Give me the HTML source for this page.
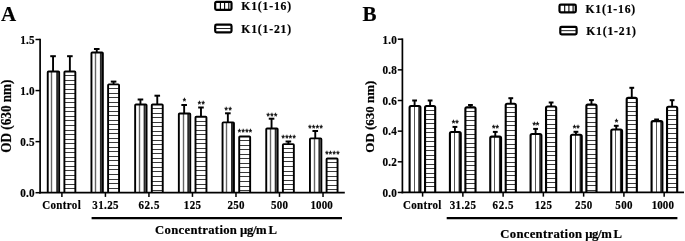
<!DOCTYPE html>
<html><head><meta charset="utf-8"><title>Figure</title>
<style>
html,body{margin:0;padding:0;background:#fff;}
svg{display:block;}
</style></head>
<body>
<svg width="685" height="241" viewBox="0 0 685 241">
<rect width="685" height="241" fill="#fff"/>
<line x1="53.05" y1="56.20" x2="53.05" y2="71.50" stroke="#000" stroke-width="1.9"/>
<line x1="50.25" y1="56.20" x2="55.85" y2="56.20" stroke="#000" stroke-width="2.0"/>
<rect x="47.75" y="71.45" width="11.40" height="121.25" fill="#fff"/>
<line x1="51.50" y1="71.45" x2="51.50" y2="192.70" stroke="#666" stroke-width="1.4"/><line x1="57.20" y1="71.45" x2="57.20" y2="192.70" stroke="#2a2a2a" stroke-width="2.0"/>
<path d="M47.75 192.70V72.25Q47.75 71.45 48.55 71.45H58.35Q59.15 71.45 59.15 72.25V192.70" fill="none" stroke="#000" stroke-width="1.9"/>
<line x1="69.88" y1="56.20" x2="69.88" y2="71.60" stroke="#000" stroke-width="1.9"/>
<line x1="67.08" y1="56.20" x2="72.67" y2="56.20" stroke="#000" stroke-width="2.0"/>
<rect x="64.40" y="71.55" width="10.95" height="121.15" fill="#fff"/>
<line x1="64.40" y1="75.5" x2="75.35" y2="75.5" stroke="#3a3a3a" stroke-width="1.0"/><line x1="64.40" y1="80.5" x2="75.35" y2="80.5" stroke="#3a3a3a" stroke-width="1.0"/><line x1="64.40" y1="84.5" x2="75.35" y2="84.5" stroke="#3a3a3a" stroke-width="1.0"/><line x1="64.40" y1="89.5" x2="75.35" y2="89.5" stroke="#3a3a3a" stroke-width="1.0"/><line x1="64.40" y1="93.5" x2="75.35" y2="93.5" stroke="#3a3a3a" stroke-width="1.0"/><line x1="64.40" y1="98.5" x2="75.35" y2="98.5" stroke="#3a3a3a" stroke-width="1.0"/><line x1="64.40" y1="102.5" x2="75.35" y2="102.5" stroke="#3a3a3a" stroke-width="1.0"/><line x1="64.40" y1="107.5" x2="75.35" y2="107.5" stroke="#3a3a3a" stroke-width="1.0"/><line x1="64.40" y1="111.5" x2="75.35" y2="111.5" stroke="#3a3a3a" stroke-width="1.0"/><line x1="64.40" y1="116.5" x2="75.35" y2="116.5" stroke="#3a3a3a" stroke-width="1.0"/><line x1="64.40" y1="120.5" x2="75.35" y2="120.5" stroke="#3a3a3a" stroke-width="1.0"/><line x1="64.40" y1="125.5" x2="75.35" y2="125.5" stroke="#3a3a3a" stroke-width="1.0"/><line x1="64.40" y1="130.5" x2="75.35" y2="130.5" stroke="#3a3a3a" stroke-width="1.0"/><line x1="64.40" y1="134.5" x2="75.35" y2="134.5" stroke="#3a3a3a" stroke-width="1.0"/><line x1="64.40" y1="139.5" x2="75.35" y2="139.5" stroke="#3a3a3a" stroke-width="1.0"/><line x1="64.40" y1="143.5" x2="75.35" y2="143.5" stroke="#3a3a3a" stroke-width="1.0"/><line x1="64.40" y1="148.5" x2="75.35" y2="148.5" stroke="#3a3a3a" stroke-width="1.0"/><line x1="64.40" y1="152.5" x2="75.35" y2="152.5" stroke="#3a3a3a" stroke-width="1.0"/><line x1="64.40" y1="157.5" x2="75.35" y2="157.5" stroke="#3a3a3a" stroke-width="1.0"/><line x1="64.40" y1="161.5" x2="75.35" y2="161.5" stroke="#3a3a3a" stroke-width="1.0"/><line x1="64.40" y1="166.5" x2="75.35" y2="166.5" stroke="#3a3a3a" stroke-width="1.0"/><line x1="64.40" y1="170.5" x2="75.35" y2="170.5" stroke="#3a3a3a" stroke-width="1.0"/><line x1="64.40" y1="175.5" x2="75.35" y2="175.5" stroke="#3a3a3a" stroke-width="1.0"/><line x1="64.40" y1="179.5" x2="75.35" y2="179.5" stroke="#3a3a3a" stroke-width="1.0"/><line x1="64.40" y1="184.5" x2="75.35" y2="184.5" stroke="#3a3a3a" stroke-width="1.0"/><line x1="64.40" y1="188.5" x2="75.35" y2="188.5" stroke="#3a3a3a" stroke-width="1.0"/>
<path d="M64.40 192.70V72.35Q64.40 71.55 65.20 71.55H74.55Q75.35 71.55 75.35 72.35V192.70" fill="none" stroke="#000" stroke-width="1.9"/>
<line x1="96.75" y1="49.00" x2="96.75" y2="52.50" stroke="#000" stroke-width="1.9"/>
<line x1="93.95" y1="49.00" x2="99.55" y2="49.00" stroke="#000" stroke-width="2.0"/>
<rect x="91.45" y="52.45" width="11.40" height="140.25" fill="#fff"/>
<line x1="95.50" y1="52.45" x2="95.50" y2="192.70" stroke="#666" stroke-width="1.4"/><line x1="100.90" y1="52.45" x2="100.90" y2="192.70" stroke="#2a2a2a" stroke-width="2.0"/>
<path d="M91.45 192.70V53.25Q91.45 52.45 92.25 52.45H102.05Q102.85 52.45 102.85 53.25V192.70" fill="none" stroke="#000" stroke-width="1.9"/>
<line x1="113.58" y1="81.60" x2="113.58" y2="84.40" stroke="#000" stroke-width="1.9"/>
<line x1="110.78" y1="81.60" x2="116.38" y2="81.60" stroke="#000" stroke-width="2.0"/>
<rect x="108.10" y="84.35" width="10.95" height="108.35" fill="#fff"/>
<line x1="108.10" y1="88.5" x2="119.05" y2="88.5" stroke="#3a3a3a" stroke-width="1.0"/><line x1="108.10" y1="93.5" x2="119.05" y2="93.5" stroke="#3a3a3a" stroke-width="1.0"/><line x1="108.10" y1="97.5" x2="119.05" y2="97.5" stroke="#3a3a3a" stroke-width="1.0"/><line x1="108.10" y1="102.5" x2="119.05" y2="102.5" stroke="#3a3a3a" stroke-width="1.0"/><line x1="108.10" y1="106.5" x2="119.05" y2="106.5" stroke="#3a3a3a" stroke-width="1.0"/><line x1="108.10" y1="111.5" x2="119.05" y2="111.5" stroke="#3a3a3a" stroke-width="1.0"/><line x1="108.10" y1="115.5" x2="119.05" y2="115.5" stroke="#3a3a3a" stroke-width="1.0"/><line x1="108.10" y1="120.5" x2="119.05" y2="120.5" stroke="#3a3a3a" stroke-width="1.0"/><line x1="108.10" y1="124.5" x2="119.05" y2="124.5" stroke="#3a3a3a" stroke-width="1.0"/><line x1="108.10" y1="129.5" x2="119.05" y2="129.5" stroke="#3a3a3a" stroke-width="1.0"/><line x1="108.10" y1="133.5" x2="119.05" y2="133.5" stroke="#3a3a3a" stroke-width="1.0"/><line x1="108.10" y1="138.5" x2="119.05" y2="138.5" stroke="#3a3a3a" stroke-width="1.0"/><line x1="108.10" y1="142.5" x2="119.05" y2="142.5" stroke="#3a3a3a" stroke-width="1.0"/><line x1="108.10" y1="147.5" x2="119.05" y2="147.5" stroke="#3a3a3a" stroke-width="1.0"/><line x1="108.10" y1="151.5" x2="119.05" y2="151.5" stroke="#3a3a3a" stroke-width="1.0"/><line x1="108.10" y1="156.5" x2="119.05" y2="156.5" stroke="#3a3a3a" stroke-width="1.0"/><line x1="108.10" y1="160.5" x2="119.05" y2="160.5" stroke="#3a3a3a" stroke-width="1.0"/><line x1="108.10" y1="165.5" x2="119.05" y2="165.5" stroke="#3a3a3a" stroke-width="1.0"/><line x1="108.10" y1="169.5" x2="119.05" y2="169.5" stroke="#3a3a3a" stroke-width="1.0"/><line x1="108.10" y1="174.5" x2="119.05" y2="174.5" stroke="#3a3a3a" stroke-width="1.0"/><line x1="108.10" y1="179.5" x2="119.05" y2="179.5" stroke="#3a3a3a" stroke-width="1.0"/><line x1="108.10" y1="183.5" x2="119.05" y2="183.5" stroke="#3a3a3a" stroke-width="1.0"/><line x1="108.10" y1="188.5" x2="119.05" y2="188.5" stroke="#3a3a3a" stroke-width="1.0"/>
<path d="M108.10 192.70V85.15Q108.10 84.35 108.90 84.35H118.25Q119.05 84.35 119.05 85.15V192.70" fill="none" stroke="#000" stroke-width="1.9"/>
<line x1="140.45" y1="99.50" x2="140.45" y2="104.50" stroke="#000" stroke-width="1.9"/>
<line x1="137.65" y1="99.50" x2="143.25" y2="99.50" stroke="#000" stroke-width="2.0"/>
<rect x="135.15" y="104.45" width="11.40" height="88.25" fill="#fff"/>
<line x1="139.50" y1="104.45" x2="139.50" y2="192.70" stroke="#666" stroke-width="1.4"/><line x1="144.60" y1="104.45" x2="144.60" y2="192.70" stroke="#2a2a2a" stroke-width="2.0"/>
<path d="M135.15 192.70V105.25Q135.15 104.45 135.95 104.45H145.75Q146.55 104.45 146.55 105.25V192.70" fill="none" stroke="#000" stroke-width="1.9"/>
<line x1="157.27" y1="95.70" x2="157.27" y2="104.50" stroke="#000" stroke-width="1.9"/>
<line x1="154.47" y1="95.70" x2="160.07" y2="95.70" stroke="#000" stroke-width="2.0"/>
<rect x="151.80" y="104.45" width="10.95" height="88.25" fill="#fff"/>
<line x1="151.80" y1="108.5" x2="162.75" y2="108.5" stroke="#3a3a3a" stroke-width="1.0"/><line x1="151.80" y1="113.5" x2="162.75" y2="113.5" stroke="#3a3a3a" stroke-width="1.0"/><line x1="151.80" y1="117.5" x2="162.75" y2="117.5" stroke="#3a3a3a" stroke-width="1.0"/><line x1="151.80" y1="122.5" x2="162.75" y2="122.5" stroke="#3a3a3a" stroke-width="1.0"/><line x1="151.80" y1="126.5" x2="162.75" y2="126.5" stroke="#3a3a3a" stroke-width="1.0"/><line x1="151.80" y1="131.5" x2="162.75" y2="131.5" stroke="#3a3a3a" stroke-width="1.0"/><line x1="151.80" y1="135.5" x2="162.75" y2="135.5" stroke="#3a3a3a" stroke-width="1.0"/><line x1="151.80" y1="140.5" x2="162.75" y2="140.5" stroke="#3a3a3a" stroke-width="1.0"/><line x1="151.80" y1="144.5" x2="162.75" y2="144.5" stroke="#3a3a3a" stroke-width="1.0"/><line x1="151.80" y1="149.5" x2="162.75" y2="149.5" stroke="#3a3a3a" stroke-width="1.0"/><line x1="151.80" y1="153.5" x2="162.75" y2="153.5" stroke="#3a3a3a" stroke-width="1.0"/><line x1="151.80" y1="158.5" x2="162.75" y2="158.5" stroke="#3a3a3a" stroke-width="1.0"/><line x1="151.80" y1="162.5" x2="162.75" y2="162.5" stroke="#3a3a3a" stroke-width="1.0"/><line x1="151.80" y1="167.5" x2="162.75" y2="167.5" stroke="#3a3a3a" stroke-width="1.0"/><line x1="151.80" y1="171.5" x2="162.75" y2="171.5" stroke="#3a3a3a" stroke-width="1.0"/><line x1="151.80" y1="176.5" x2="162.75" y2="176.5" stroke="#3a3a3a" stroke-width="1.0"/><line x1="151.80" y1="181.5" x2="162.75" y2="181.5" stroke="#3a3a3a" stroke-width="1.0"/><line x1="151.80" y1="185.5" x2="162.75" y2="185.5" stroke="#3a3a3a" stroke-width="1.0"/><line x1="151.80" y1="190.5" x2="162.75" y2="190.5" stroke="#3a3a3a" stroke-width="1.0"/>
<path d="M151.80 192.70V105.25Q151.80 104.45 152.60 104.45H161.95Q162.75 104.45 162.75 105.25V192.70" fill="none" stroke="#000" stroke-width="1.9"/>
<line x1="184.15" y1="105.00" x2="184.15" y2="113.50" stroke="#000" stroke-width="1.9"/>
<line x1="181.35" y1="105.00" x2="186.95" y2="105.00" stroke="#000" stroke-width="2.0"/>
<rect x="178.85" y="113.45" width="11.40" height="79.25" fill="#fff"/>
<line x1="183.50" y1="113.45" x2="183.50" y2="192.70" stroke="#666" stroke-width="1.4"/><line x1="188.30" y1="113.45" x2="188.30" y2="192.70" stroke="#2a2a2a" stroke-width="2.0"/>
<path d="M178.85 192.70V114.25Q178.85 113.45 179.65 113.45H189.45Q190.25 113.45 190.25 114.25V192.70" fill="none" stroke="#000" stroke-width="1.9"/>
<text x="182.65" y="104.10" font-family="&quot;Liberation Sans&quot;, sans-serif" font-size="8.6" fill="#000" stroke="#000" stroke-width="0.3">*</text>
<line x1="200.98" y1="107.50" x2="200.98" y2="116.80" stroke="#000" stroke-width="1.9"/>
<line x1="198.18" y1="107.50" x2="203.78" y2="107.50" stroke="#000" stroke-width="2.0"/>
<rect x="195.50" y="116.75" width="10.95" height="75.95" fill="#fff"/>
<line x1="195.50" y1="121.5" x2="206.45" y2="121.5" stroke="#3a3a3a" stroke-width="1.0"/><line x1="195.50" y1="125.5" x2="206.45" y2="125.5" stroke="#3a3a3a" stroke-width="1.0"/><line x1="195.50" y1="130.5" x2="206.45" y2="130.5" stroke="#3a3a3a" stroke-width="1.0"/><line x1="195.50" y1="134.5" x2="206.45" y2="134.5" stroke="#3a3a3a" stroke-width="1.0"/><line x1="195.50" y1="139.5" x2="206.45" y2="139.5" stroke="#3a3a3a" stroke-width="1.0"/><line x1="195.50" y1="143.5" x2="206.45" y2="143.5" stroke="#3a3a3a" stroke-width="1.0"/><line x1="195.50" y1="148.5" x2="206.45" y2="148.5" stroke="#3a3a3a" stroke-width="1.0"/><line x1="195.50" y1="152.5" x2="206.45" y2="152.5" stroke="#3a3a3a" stroke-width="1.0"/><line x1="195.50" y1="157.5" x2="206.45" y2="157.5" stroke="#3a3a3a" stroke-width="1.0"/><line x1="195.50" y1="161.5" x2="206.45" y2="161.5" stroke="#3a3a3a" stroke-width="1.0"/><line x1="195.50" y1="166.5" x2="206.45" y2="166.5" stroke="#3a3a3a" stroke-width="1.0"/><line x1="195.50" y1="170.5" x2="206.45" y2="170.5" stroke="#3a3a3a" stroke-width="1.0"/><line x1="195.50" y1="175.5" x2="206.45" y2="175.5" stroke="#3a3a3a" stroke-width="1.0"/><line x1="195.50" y1="179.5" x2="206.45" y2="179.5" stroke="#3a3a3a" stroke-width="1.0"/><line x1="195.50" y1="184.5" x2="206.45" y2="184.5" stroke="#3a3a3a" stroke-width="1.0"/><line x1="195.50" y1="188.5" x2="206.45" y2="188.5" stroke="#3a3a3a" stroke-width="1.0"/>
<path d="M195.50 192.70V117.55Q195.50 116.75 196.30 116.75H205.65Q206.45 116.75 206.45 117.55V192.70" fill="none" stroke="#000" stroke-width="1.9"/>
<text x="197.68" y="106.80" font-family="&quot;Liberation Sans&quot;, sans-serif" font-size="8.6" fill="#000" stroke="#000" stroke-width="0.3" textLength="7.20" lengthAdjust="spacing">**</text>
<line x1="227.85" y1="113.30" x2="227.85" y2="122.40" stroke="#000" stroke-width="1.9"/>
<line x1="225.05" y1="113.30" x2="230.65" y2="113.30" stroke="#000" stroke-width="2.0"/>
<rect x="222.55" y="122.35" width="11.40" height="70.35" fill="#fff"/>
<line x1="226.50" y1="122.35" x2="226.50" y2="192.70" stroke="#666" stroke-width="1.4"/><line x1="232.00" y1="122.35" x2="232.00" y2="192.70" stroke="#2a2a2a" stroke-width="2.0"/>
<path d="M222.55 192.70V123.15Q222.55 122.35 223.35 122.35H233.15Q233.95 122.35 233.95 123.15V192.70" fill="none" stroke="#000" stroke-width="1.9"/>
<text x="224.55" y="112.60" font-family="&quot;Liberation Sans&quot;, sans-serif" font-size="8.6" fill="#000" stroke="#000" stroke-width="0.3" textLength="7.20" lengthAdjust="spacing">**</text>
<rect x="239.20" y="136.55" width="10.95" height="56.15" fill="#fff"/>
<line x1="239.20" y1="140.5" x2="250.15" y2="140.5" stroke="#3a3a3a" stroke-width="1.0"/><line x1="239.20" y1="145.5" x2="250.15" y2="145.5" stroke="#3a3a3a" stroke-width="1.0"/><line x1="239.20" y1="149.5" x2="250.15" y2="149.5" stroke="#3a3a3a" stroke-width="1.0"/><line x1="239.20" y1="154.5" x2="250.15" y2="154.5" stroke="#3a3a3a" stroke-width="1.0"/><line x1="239.20" y1="158.5" x2="250.15" y2="158.5" stroke="#3a3a3a" stroke-width="1.0"/><line x1="239.20" y1="163.5" x2="250.15" y2="163.5" stroke="#3a3a3a" stroke-width="1.0"/><line x1="239.20" y1="167.5" x2="250.15" y2="167.5" stroke="#3a3a3a" stroke-width="1.0"/><line x1="239.20" y1="172.5" x2="250.15" y2="172.5" stroke="#3a3a3a" stroke-width="1.0"/><line x1="239.20" y1="176.5" x2="250.15" y2="176.5" stroke="#3a3a3a" stroke-width="1.0"/><line x1="239.20" y1="181.5" x2="250.15" y2="181.5" stroke="#3a3a3a" stroke-width="1.0"/><line x1="239.20" y1="186.5" x2="250.15" y2="186.5" stroke="#3a3a3a" stroke-width="1.0"/><line x1="239.20" y1="190.5" x2="250.15" y2="190.5" stroke="#3a3a3a" stroke-width="1.0"/>
<path d="M239.20 192.70V137.35Q239.20 136.55 240.00 136.55H249.35Q250.15 136.55 250.15 137.35V192.70" fill="none" stroke="#000" stroke-width="1.9"/>
<text x="237.78" y="135.20" font-family="&quot;Liberation Sans&quot;, sans-serif" font-size="8.6" fill="#000" stroke="#000" stroke-width="0.3" textLength="14.40" lengthAdjust="spacing">****</text>
<line x1="271.55" y1="118.70" x2="271.55" y2="128.60" stroke="#000" stroke-width="1.9"/>
<line x1="268.75" y1="118.70" x2="274.35" y2="118.70" stroke="#000" stroke-width="2.0"/>
<rect x="266.25" y="128.55" width="11.40" height="64.15" fill="#fff"/>
<line x1="270.50" y1="128.55" x2="270.50" y2="192.70" stroke="#666" stroke-width="1.4"/><line x1="275.70" y1="128.55" x2="275.70" y2="192.70" stroke="#2a2a2a" stroke-width="2.0"/>
<path d="M266.25 192.70V129.35Q266.25 128.55 267.05 128.55H276.85Q277.65 128.55 277.65 129.35V192.70" fill="none" stroke="#000" stroke-width="1.9"/>
<text x="266.45" y="118.90" font-family="&quot;Liberation Sans&quot;, sans-serif" font-size="8.6" fill="#000" stroke="#000" stroke-width="0.3" textLength="10.80" lengthAdjust="spacing">***</text>
<line x1="288.38" y1="141.50" x2="288.38" y2="144.20" stroke="#000" stroke-width="1.9"/>
<line x1="285.57" y1="141.50" x2="291.18" y2="141.50" stroke="#000" stroke-width="2.0"/>
<rect x="282.90" y="144.15" width="10.95" height="48.55" fill="#fff"/>
<line x1="282.90" y1="148.5" x2="293.85" y2="148.5" stroke="#3a3a3a" stroke-width="1.0"/><line x1="282.90" y1="152.5" x2="293.85" y2="152.5" stroke="#3a3a3a" stroke-width="1.0"/><line x1="282.90" y1="157.5" x2="293.85" y2="157.5" stroke="#3a3a3a" stroke-width="1.0"/><line x1="282.90" y1="161.5" x2="293.85" y2="161.5" stroke="#3a3a3a" stroke-width="1.0"/><line x1="282.90" y1="166.5" x2="293.85" y2="166.5" stroke="#3a3a3a" stroke-width="1.0"/><line x1="282.90" y1="171.5" x2="293.85" y2="171.5" stroke="#3a3a3a" stroke-width="1.0"/><line x1="282.90" y1="175.5" x2="293.85" y2="175.5" stroke="#3a3a3a" stroke-width="1.0"/><line x1="282.90" y1="180.5" x2="293.85" y2="180.5" stroke="#3a3a3a" stroke-width="1.0"/><line x1="282.90" y1="184.5" x2="293.85" y2="184.5" stroke="#3a3a3a" stroke-width="1.0"/><line x1="282.90" y1="189.5" x2="293.85" y2="189.5" stroke="#3a3a3a" stroke-width="1.0"/>
<path d="M282.90 192.70V144.95Q282.90 144.15 283.70 144.15H293.05Q293.85 144.15 293.85 144.95V192.70" fill="none" stroke="#000" stroke-width="1.9"/>
<text x="281.48" y="140.60" font-family="&quot;Liberation Sans&quot;, sans-serif" font-size="8.6" fill="#000" stroke="#000" stroke-width="0.3" textLength="14.40" lengthAdjust="spacing">****</text>
<line x1="315.25" y1="131.00" x2="315.25" y2="138.40" stroke="#000" stroke-width="1.9"/>
<line x1="312.45" y1="131.00" x2="318.05" y2="131.00" stroke="#000" stroke-width="2.0"/>
<rect x="309.95" y="138.35" width="11.40" height="54.35" fill="#fff"/>
<line x1="314.50" y1="138.35" x2="314.50" y2="192.70" stroke="#666" stroke-width="1.4"/><line x1="319.40" y1="138.35" x2="319.40" y2="192.70" stroke="#2a2a2a" stroke-width="2.0"/>
<path d="M309.95 192.70V139.15Q309.95 138.35 310.75 138.35H320.55Q321.35 138.35 321.35 139.15V192.70" fill="none" stroke="#000" stroke-width="1.9"/>
<text x="308.35" y="130.70" font-family="&quot;Liberation Sans&quot;, sans-serif" font-size="8.6" fill="#000" stroke="#000" stroke-width="0.3" textLength="14.40" lengthAdjust="spacing">****</text>
<rect x="326.60" y="158.45" width="10.95" height="34.25" fill="#fff"/>
<line x1="326.60" y1="162.5" x2="337.55" y2="162.5" stroke="#3a3a3a" stroke-width="1.0"/><line x1="326.60" y1="167.5" x2="337.55" y2="167.5" stroke="#3a3a3a" stroke-width="1.0"/><line x1="326.60" y1="171.5" x2="337.55" y2="171.5" stroke="#3a3a3a" stroke-width="1.0"/><line x1="326.60" y1="176.5" x2="337.55" y2="176.5" stroke="#3a3a3a" stroke-width="1.0"/><line x1="326.60" y1="180.5" x2="337.55" y2="180.5" stroke="#3a3a3a" stroke-width="1.0"/><line x1="326.60" y1="185.5" x2="337.55" y2="185.5" stroke="#3a3a3a" stroke-width="1.0"/><line x1="326.60" y1="189.5" x2="337.55" y2="189.5" stroke="#3a3a3a" stroke-width="1.0"/>
<path d="M326.60 192.70V159.25Q326.60 158.45 327.40 158.45H336.75Q337.55 158.45 337.55 159.25V192.70" fill="none" stroke="#000" stroke-width="1.9"/>
<text x="325.18" y="156.90" font-family="&quot;Liberation Sans&quot;, sans-serif" font-size="8.6" fill="#000" stroke="#000" stroke-width="0.3" textLength="14.40" lengthAdjust="spacing">****</text>
<line x1="40.10" y1="38.70" x2="40.10" y2="193.55" stroke="#000" stroke-width="1.7"/>
<line x1="39.25" y1="192.70" x2="344.80" y2="192.70" stroke="#000" stroke-width="1.7"/>
<line x1="35.50" y1="39.50" x2="40.10" y2="39.50" stroke="#000" stroke-width="1.5"/>
<text transform="translate(20.20 43.80) scale(0.86 1)" font-family='"Liberation Serif", serif' font-weight="bold" font-size="13" fill="#000" stroke="#000" stroke-width="0.2" textLength="16.63" lengthAdjust="spacing">1.5</text>
<line x1="35.50" y1="90.57" x2="40.10" y2="90.57" stroke="#000" stroke-width="1.5"/>
<text transform="translate(20.20 94.87) scale(0.86 1)" font-family='"Liberation Serif", serif' font-weight="bold" font-size="13" fill="#000" stroke="#000" stroke-width="0.2" textLength="16.63" lengthAdjust="spacing">1.0</text>
<line x1="35.50" y1="141.63" x2="40.10" y2="141.63" stroke="#000" stroke-width="1.5"/>
<text transform="translate(20.20 145.93) scale(0.86 1)" font-family='"Liberation Serif", serif' font-weight="bold" font-size="13" fill="#000" stroke="#000" stroke-width="0.2" textLength="16.63" lengthAdjust="spacing">0.5</text>
<line x1="35.50" y1="192.70" x2="40.10" y2="192.70" stroke="#000" stroke-width="1.5"/>
<text transform="translate(20.20 197.00) scale(0.86 1)" font-family='"Liberation Serif", serif' font-weight="bold" font-size="13" fill="#000" stroke="#000" stroke-width="0.2" textLength="16.63" lengthAdjust="spacing">0.0</text>
<line x1="61.90" y1="192.70" x2="61.90" y2="196.90" stroke="#000" stroke-width="1.5"/>
<text transform="translate(42.20 209.30) scale(0.86 1)" font-family='"Liberation Serif", serif' font-weight="bold" font-size="12.8" fill="#000" stroke="#000" stroke-width="0.2" textLength="44.77" lengthAdjust="spacing">Control</text>
<line x1="105.42" y1="192.70" x2="105.42" y2="196.90" stroke="#000" stroke-width="1.5"/>
<text transform="translate(92.32 209.30) scale(0.86 1)" font-family='"Liberation Serif", serif' font-weight="bold" font-size="12.8" fill="#000" stroke="#000" stroke-width="0.2" textLength="30.47" lengthAdjust="spacing">31.25</text>
<line x1="148.94" y1="192.70" x2="148.94" y2="196.90" stroke="#000" stroke-width="1.5"/>
<text transform="translate(138.44 209.30) scale(0.86 1)" font-family='"Liberation Serif", serif' font-weight="bold" font-size="12.8" fill="#000" stroke="#000" stroke-width="0.2" textLength="24.42" lengthAdjust="spacing">62.5</text>
<line x1="192.46" y1="192.70" x2="192.46" y2="196.90" stroke="#000" stroke-width="1.5"/>
<text transform="translate(183.86 209.30) scale(0.86 1)" font-family='"Liberation Serif", serif' font-weight="bold" font-size="12.8" fill="#000" stroke="#000" stroke-width="0.2" textLength="20.00" lengthAdjust="spacing">125</text>
<line x1="235.98" y1="192.70" x2="235.98" y2="196.90" stroke="#000" stroke-width="1.5"/>
<text transform="translate(227.38 209.30) scale(0.86 1)" font-family='"Liberation Serif", serif' font-weight="bold" font-size="12.8" fill="#000" stroke="#000" stroke-width="0.2" textLength="20.00" lengthAdjust="spacing">250</text>
<line x1="279.50" y1="192.70" x2="279.50" y2="196.90" stroke="#000" stroke-width="1.5"/>
<text transform="translate(270.90 209.30) scale(0.86 1)" font-family='"Liberation Serif", serif' font-weight="bold" font-size="12.8" fill="#000" stroke="#000" stroke-width="0.2" textLength="20.00" lengthAdjust="spacing">500</text>
<line x1="323.02" y1="192.70" x2="323.02" y2="196.90" stroke="#000" stroke-width="1.5"/>
<text transform="translate(310.52 209.30) scale(0.86 1)" font-family='"Liberation Serif", serif' font-weight="bold" font-size="12.8" fill="#000" stroke="#000" stroke-width="0.2" textLength="25.93" lengthAdjust="spacing">1000</text>
<line x1="91.60" y1="218.2" x2="342.00" y2="218.2" stroke="#000" stroke-width="2.2"/>
<text y="233.60" font-family='"Liberation Serif", serif' font-weight="bold" font-size="12.7" fill="#000" stroke="#000" stroke-width="0.2" xml:space="preserve"><tspan x="155.10" textLength="81.8" lengthAdjust="spacing">Concentration</tspan><tspan> </tspan><tspan x="240.00" textLength="26.6" lengthAdjust="spacing">µg/m</tspan><tspan x="268.40" textLength="8.8" lengthAdjust="spacing">L</tspan></text>
<text transform="translate(11.30 152.70) rotate(-90)" font-family='"Liberation Serif", serif' font-weight="bold" font-size="13.6" textLength="73.2" lengthAdjust="spacingAndGlyphs" fill="#000" stroke="#000" stroke-width="0.2">OD (630 nm)</text>
<text x="1.00" y="21.20" font-family='"Liberation Serif", serif' font-weight="bold" font-size="21" text-anchor="start" fill="#000" stroke="#000" stroke-width="0.2">A</text>
<rect x="215.20" y="1.80" width="16.30" height="8.00" rx="1.3" fill="#fff" stroke="#000" stroke-width="2.2"/>
<line x1="220.40" y1="2.20" x2="220.40" y2="9.40" stroke="#000" stroke-width="1.1"/>
<line x1="224.60" y1="2.20" x2="224.60" y2="9.40" stroke="#000" stroke-width="1.1"/>
<line x1="228.80" y1="2.20" x2="228.80" y2="9.40" stroke="#000" stroke-width="1.1"/>
<rect x="215.20" y="24.70" width="16.30" height="7.60" rx="1.3" fill="#fff" stroke="#000" stroke-width="2.2"/>
<line x1="215.60" y1="28.50" x2="231.00" y2="28.50" stroke="#222" stroke-width="1.0"/>
<text transform="translate(241.30 10.00) scale(0.9 1)" font-family='"Liberation Serif", serif' font-weight="bold" font-size="13.0" fill="#000" stroke="#000" stroke-width="0.2" textLength="55.33" lengthAdjust="spacing">K1(1-16)</text>
<text transform="translate(241.30 32.80) scale(0.9 1)" font-family='"Liberation Serif", serif' font-weight="bold" font-size="13.0" fill="#000" stroke="#000" stroke-width="0.2" textLength="55.33" lengthAdjust="spacing">K1(1-21)</text>
<line x1="414.60" y1="100.50" x2="414.60" y2="105.90" stroke="#000" stroke-width="1.9"/>
<line x1="412.20" y1="100.50" x2="417.00" y2="100.50" stroke="#000" stroke-width="2.0"/>
<rect x="409.60" y="105.95" width="10.80" height="86.50" fill="#fff"/>
<line x1="414.50" y1="105.95" x2="414.50" y2="192.45" stroke="#555" stroke-width="1.0"/><line x1="418.95" y1="105.95" x2="418.95" y2="192.45" stroke="#2a2a2a" stroke-width="1.4"/>
<path d="M409.60 192.45V107.45Q409.60 105.95 411.10 105.95H418.90Q420.40 105.95 420.40 107.45V192.45" fill="none" stroke="#000" stroke-width="2.1"/>
<line x1="430.12" y1="100.50" x2="430.12" y2="105.90" stroke="#000" stroke-width="1.9"/>
<line x1="427.73" y1="100.50" x2="432.52" y2="100.50" stroke="#000" stroke-width="2.0"/>
<rect x="425.05" y="105.95" width="10.15" height="86.50" fill="#fff"/>
<line x1="425.05" y1="110.5" x2="435.20" y2="110.5" stroke="#3a3a3a" stroke-width="1.0"/><line x1="425.05" y1="114.5" x2="435.20" y2="114.5" stroke="#3a3a3a" stroke-width="1.0"/><line x1="425.05" y1="119.5" x2="435.20" y2="119.5" stroke="#3a3a3a" stroke-width="1.0"/><line x1="425.05" y1="123.5" x2="435.20" y2="123.5" stroke="#3a3a3a" stroke-width="1.0"/><line x1="425.05" y1="128.5" x2="435.20" y2="128.5" stroke="#3a3a3a" stroke-width="1.0"/><line x1="425.05" y1="132.5" x2="435.20" y2="132.5" stroke="#3a3a3a" stroke-width="1.0"/><line x1="425.05" y1="137.5" x2="435.20" y2="137.5" stroke="#3a3a3a" stroke-width="1.0"/><line x1="425.05" y1="141.5" x2="435.20" y2="141.5" stroke="#3a3a3a" stroke-width="1.0"/><line x1="425.05" y1="146.5" x2="435.20" y2="146.5" stroke="#3a3a3a" stroke-width="1.0"/><line x1="425.05" y1="150.5" x2="435.20" y2="150.5" stroke="#3a3a3a" stroke-width="1.0"/><line x1="425.05" y1="155.5" x2="435.20" y2="155.5" stroke="#3a3a3a" stroke-width="1.0"/><line x1="425.05" y1="159.5" x2="435.20" y2="159.5" stroke="#3a3a3a" stroke-width="1.0"/><line x1="425.05" y1="164.5" x2="435.20" y2="164.5" stroke="#3a3a3a" stroke-width="1.0"/><line x1="425.05" y1="168.5" x2="435.20" y2="168.5" stroke="#3a3a3a" stroke-width="1.0"/><line x1="425.05" y1="173.5" x2="435.20" y2="173.5" stroke="#3a3a3a" stroke-width="1.0"/><line x1="425.05" y1="177.5" x2="435.20" y2="177.5" stroke="#3a3a3a" stroke-width="1.0"/><line x1="425.05" y1="182.5" x2="435.20" y2="182.5" stroke="#3a3a3a" stroke-width="1.0"/><line x1="425.05" y1="186.5" x2="435.20" y2="186.5" stroke="#3a3a3a" stroke-width="1.0"/>
<path d="M425.05 192.45V107.45Q425.05 105.95 426.55 105.95H433.70Q435.20 105.95 435.20 107.45V192.45" fill="none" stroke="#000" stroke-width="2.1"/>
<line x1="454.93" y1="126.90" x2="454.93" y2="132.00" stroke="#000" stroke-width="1.9"/>
<line x1="452.53" y1="126.90" x2="457.33" y2="126.90" stroke="#000" stroke-width="2.0"/>
<rect x="449.93" y="132.05" width="10.80" height="60.40" fill="#fff"/>
<line x1="454.50" y1="132.05" x2="454.50" y2="192.45" stroke="#555" stroke-width="1.0"/><line x1="459.28" y1="132.05" x2="459.28" y2="192.45" stroke="#2a2a2a" stroke-width="1.4"/>
<path d="M449.93 192.45V133.55Q449.93 132.05 451.43 132.05H459.23Q460.73 132.05 460.73 133.55V192.45" fill="none" stroke="#000" stroke-width="2.1"/>
<text x="451.73" y="125.50" font-family="&quot;Liberation Sans&quot;, sans-serif" font-size="9.0" fill="#000" stroke="#000" stroke-width="0.3" textLength="7.00" lengthAdjust="spacing">**</text>
<line x1="470.45" y1="105.00" x2="470.45" y2="107.30" stroke="#000" stroke-width="1.9"/>
<line x1="468.06" y1="105.00" x2="472.85" y2="105.00" stroke="#000" stroke-width="2.0"/>
<rect x="465.38" y="107.35" width="10.15" height="85.10" fill="#fff"/>
<line x1="465.38" y1="111.5" x2="475.53" y2="111.5" stroke="#3a3a3a" stroke-width="1.0"/><line x1="465.38" y1="116.5" x2="475.53" y2="116.5" stroke="#3a3a3a" stroke-width="1.0"/><line x1="465.38" y1="120.5" x2="475.53" y2="120.5" stroke="#3a3a3a" stroke-width="1.0"/><line x1="465.38" y1="125.5" x2="475.53" y2="125.5" stroke="#3a3a3a" stroke-width="1.0"/><line x1="465.38" y1="129.5" x2="475.53" y2="129.5" stroke="#3a3a3a" stroke-width="1.0"/><line x1="465.38" y1="134.5" x2="475.53" y2="134.5" stroke="#3a3a3a" stroke-width="1.0"/><line x1="465.38" y1="138.5" x2="475.53" y2="138.5" stroke="#3a3a3a" stroke-width="1.0"/><line x1="465.38" y1="143.5" x2="475.53" y2="143.5" stroke="#3a3a3a" stroke-width="1.0"/><line x1="465.38" y1="147.5" x2="475.53" y2="147.5" stroke="#3a3a3a" stroke-width="1.0"/><line x1="465.38" y1="152.5" x2="475.53" y2="152.5" stroke="#3a3a3a" stroke-width="1.0"/><line x1="465.38" y1="156.5" x2="475.53" y2="156.5" stroke="#3a3a3a" stroke-width="1.0"/><line x1="465.38" y1="161.5" x2="475.53" y2="161.5" stroke="#3a3a3a" stroke-width="1.0"/><line x1="465.38" y1="165.5" x2="475.53" y2="165.5" stroke="#3a3a3a" stroke-width="1.0"/><line x1="465.38" y1="170.5" x2="475.53" y2="170.5" stroke="#3a3a3a" stroke-width="1.0"/><line x1="465.38" y1="174.5" x2="475.53" y2="174.5" stroke="#3a3a3a" stroke-width="1.0"/><line x1="465.38" y1="179.5" x2="475.53" y2="179.5" stroke="#3a3a3a" stroke-width="1.0"/><line x1="465.38" y1="183.5" x2="475.53" y2="183.5" stroke="#3a3a3a" stroke-width="1.0"/><line x1="465.38" y1="188.5" x2="475.53" y2="188.5" stroke="#3a3a3a" stroke-width="1.0"/>
<path d="M465.38 192.45V108.85Q465.38 107.35 466.88 107.35H474.03Q475.53 107.35 475.53 108.85V192.45" fill="none" stroke="#000" stroke-width="2.1"/>
<line x1="495.26" y1="131.90" x2="495.26" y2="136.60" stroke="#000" stroke-width="1.9"/>
<line x1="492.86" y1="131.90" x2="497.66" y2="131.90" stroke="#000" stroke-width="2.0"/>
<rect x="490.26" y="136.65" width="10.80" height="55.80" fill="#fff"/>
<line x1="494.50" y1="136.65" x2="494.50" y2="192.45" stroke="#555" stroke-width="1.0"/><line x1="499.61" y1="136.65" x2="499.61" y2="192.45" stroke="#2a2a2a" stroke-width="1.4"/>
<path d="M490.26 192.45V138.15Q490.26 136.65 491.76 136.65H499.56Q501.06 136.65 501.06 138.15V192.45" fill="none" stroke="#000" stroke-width="2.1"/>
<text x="492.06" y="131.10" font-family="&quot;Liberation Sans&quot;, sans-serif" font-size="9.0" fill="#000" stroke="#000" stroke-width="0.3" textLength="7.00" lengthAdjust="spacing">**</text>
<line x1="510.78" y1="98.20" x2="510.78" y2="103.70" stroke="#000" stroke-width="1.9"/>
<line x1="508.38" y1="98.20" x2="513.18" y2="98.20" stroke="#000" stroke-width="2.0"/>
<rect x="505.71" y="103.75" width="10.15" height="88.70" fill="#fff"/>
<line x1="505.71" y1="107.5" x2="515.86" y2="107.5" stroke="#3a3a3a" stroke-width="1.0"/><line x1="505.71" y1="112.5" x2="515.86" y2="112.5" stroke="#3a3a3a" stroke-width="1.0"/><line x1="505.71" y1="116.5" x2="515.86" y2="116.5" stroke="#3a3a3a" stroke-width="1.0"/><line x1="505.71" y1="121.5" x2="515.86" y2="121.5" stroke="#3a3a3a" stroke-width="1.0"/><line x1="505.71" y1="125.5" x2="515.86" y2="125.5" stroke="#3a3a3a" stroke-width="1.0"/><line x1="505.71" y1="130.5" x2="515.86" y2="130.5" stroke="#3a3a3a" stroke-width="1.0"/><line x1="505.71" y1="135.5" x2="515.86" y2="135.5" stroke="#3a3a3a" stroke-width="1.0"/><line x1="505.71" y1="139.5" x2="515.86" y2="139.5" stroke="#3a3a3a" stroke-width="1.0"/><line x1="505.71" y1="144.5" x2="515.86" y2="144.5" stroke="#3a3a3a" stroke-width="1.0"/><line x1="505.71" y1="148.5" x2="515.86" y2="148.5" stroke="#3a3a3a" stroke-width="1.0"/><line x1="505.71" y1="153.5" x2="515.86" y2="153.5" stroke="#3a3a3a" stroke-width="1.0"/><line x1="505.71" y1="157.5" x2="515.86" y2="157.5" stroke="#3a3a3a" stroke-width="1.0"/><line x1="505.71" y1="162.5" x2="515.86" y2="162.5" stroke="#3a3a3a" stroke-width="1.0"/><line x1="505.71" y1="166.5" x2="515.86" y2="166.5" stroke="#3a3a3a" stroke-width="1.0"/><line x1="505.71" y1="171.5" x2="515.86" y2="171.5" stroke="#3a3a3a" stroke-width="1.0"/><line x1="505.71" y1="175.5" x2="515.86" y2="175.5" stroke="#3a3a3a" stroke-width="1.0"/><line x1="505.71" y1="180.5" x2="515.86" y2="180.5" stroke="#3a3a3a" stroke-width="1.0"/><line x1="505.71" y1="184.5" x2="515.86" y2="184.5" stroke="#3a3a3a" stroke-width="1.0"/><line x1="505.71" y1="189.5" x2="515.86" y2="189.5" stroke="#3a3a3a" stroke-width="1.0"/>
<path d="M505.71 192.45V105.25Q505.71 103.75 507.21 103.75H514.36Q515.86 103.75 515.86 105.25V192.45" fill="none" stroke="#000" stroke-width="2.1"/>
<line x1="535.59" y1="128.90" x2="535.59" y2="133.90" stroke="#000" stroke-width="1.9"/>
<line x1="533.19" y1="128.90" x2="537.99" y2="128.90" stroke="#000" stroke-width="2.0"/>
<rect x="530.59" y="133.95" width="10.80" height="58.50" fill="#fff"/>
<line x1="535.50" y1="133.95" x2="535.50" y2="192.45" stroke="#555" stroke-width="1.0"/><line x1="539.94" y1="133.95" x2="539.94" y2="192.45" stroke="#2a2a2a" stroke-width="1.4"/>
<path d="M530.59 192.45V135.45Q530.59 133.95 532.09 133.95H539.89Q541.39 133.95 541.39 135.45V192.45" fill="none" stroke="#000" stroke-width="2.1"/>
<text x="532.39" y="128.00" font-family="&quot;Liberation Sans&quot;, sans-serif" font-size="9.0" fill="#000" stroke="#000" stroke-width="0.3" textLength="7.00" lengthAdjust="spacing">**</text>
<line x1="551.12" y1="102.50" x2="551.12" y2="106.40" stroke="#000" stroke-width="1.9"/>
<line x1="548.72" y1="102.50" x2="553.51" y2="102.50" stroke="#000" stroke-width="2.0"/>
<rect x="546.04" y="106.45" width="10.15" height="86.00" fill="#fff"/>
<line x1="546.04" y1="110.5" x2="556.19" y2="110.5" stroke="#3a3a3a" stroke-width="1.0"/><line x1="546.04" y1="115.5" x2="556.19" y2="115.5" stroke="#3a3a3a" stroke-width="1.0"/><line x1="546.04" y1="119.5" x2="556.19" y2="119.5" stroke="#3a3a3a" stroke-width="1.0"/><line x1="546.04" y1="124.5" x2="556.19" y2="124.5" stroke="#3a3a3a" stroke-width="1.0"/><line x1="546.04" y1="128.5" x2="556.19" y2="128.5" stroke="#3a3a3a" stroke-width="1.0"/><line x1="546.04" y1="133.5" x2="556.19" y2="133.5" stroke="#3a3a3a" stroke-width="1.0"/><line x1="546.04" y1="137.5" x2="556.19" y2="137.5" stroke="#3a3a3a" stroke-width="1.0"/><line x1="546.04" y1="142.5" x2="556.19" y2="142.5" stroke="#3a3a3a" stroke-width="1.0"/><line x1="546.04" y1="146.5" x2="556.19" y2="146.5" stroke="#3a3a3a" stroke-width="1.0"/><line x1="546.04" y1="151.5" x2="556.19" y2="151.5" stroke="#3a3a3a" stroke-width="1.0"/><line x1="546.04" y1="155.5" x2="556.19" y2="155.5" stroke="#3a3a3a" stroke-width="1.0"/><line x1="546.04" y1="160.5" x2="556.19" y2="160.5" stroke="#3a3a3a" stroke-width="1.0"/><line x1="546.04" y1="164.5" x2="556.19" y2="164.5" stroke="#3a3a3a" stroke-width="1.0"/><line x1="546.04" y1="169.5" x2="556.19" y2="169.5" stroke="#3a3a3a" stroke-width="1.0"/><line x1="546.04" y1="173.5" x2="556.19" y2="173.5" stroke="#3a3a3a" stroke-width="1.0"/><line x1="546.04" y1="178.5" x2="556.19" y2="178.5" stroke="#3a3a3a" stroke-width="1.0"/><line x1="546.04" y1="182.5" x2="556.19" y2="182.5" stroke="#3a3a3a" stroke-width="1.0"/><line x1="546.04" y1="187.5" x2="556.19" y2="187.5" stroke="#3a3a3a" stroke-width="1.0"/>
<path d="M546.04 192.45V107.95Q546.04 106.45 547.54 106.45H554.69Q556.19 106.45 556.19 107.95V192.45" fill="none" stroke="#000" stroke-width="2.1"/>
<line x1="575.92" y1="131.80" x2="575.92" y2="134.70" stroke="#000" stroke-width="1.9"/>
<line x1="573.52" y1="131.80" x2="578.32" y2="131.80" stroke="#000" stroke-width="2.0"/>
<rect x="570.92" y="134.75" width="10.80" height="57.70" fill="#fff"/>
<line x1="575.50" y1="134.75" x2="575.50" y2="192.45" stroke="#555" stroke-width="1.0"/><line x1="580.27" y1="134.75" x2="580.27" y2="192.45" stroke="#2a2a2a" stroke-width="1.4"/>
<path d="M570.92 192.45V136.25Q570.92 134.75 572.42 134.75H580.22Q581.72 134.75 581.72 136.25V192.45" fill="none" stroke="#000" stroke-width="2.1"/>
<text x="572.72" y="131.40" font-family="&quot;Liberation Sans&quot;, sans-serif" font-size="9.0" fill="#000" stroke="#000" stroke-width="0.3" textLength="7.00" lengthAdjust="spacing">**</text>
<line x1="591.45" y1="100.10" x2="591.45" y2="104.60" stroke="#000" stroke-width="1.9"/>
<line x1="589.05" y1="100.10" x2="593.85" y2="100.10" stroke="#000" stroke-width="2.0"/>
<rect x="586.37" y="104.65" width="10.15" height="87.80" fill="#fff"/>
<line x1="586.37" y1="108.5" x2="596.52" y2="108.5" stroke="#3a3a3a" stroke-width="1.0"/><line x1="586.37" y1="113.5" x2="596.52" y2="113.5" stroke="#3a3a3a" stroke-width="1.0"/><line x1="586.37" y1="117.5" x2="596.52" y2="117.5" stroke="#3a3a3a" stroke-width="1.0"/><line x1="586.37" y1="122.5" x2="596.52" y2="122.5" stroke="#3a3a3a" stroke-width="1.0"/><line x1="586.37" y1="126.5" x2="596.52" y2="126.5" stroke="#3a3a3a" stroke-width="1.0"/><line x1="586.37" y1="131.5" x2="596.52" y2="131.5" stroke="#3a3a3a" stroke-width="1.0"/><line x1="586.37" y1="135.5" x2="596.52" y2="135.5" stroke="#3a3a3a" stroke-width="1.0"/><line x1="586.37" y1="140.5" x2="596.52" y2="140.5" stroke="#3a3a3a" stroke-width="1.0"/><line x1="586.37" y1="144.5" x2="596.52" y2="144.5" stroke="#3a3a3a" stroke-width="1.0"/><line x1="586.37" y1="149.5" x2="596.52" y2="149.5" stroke="#3a3a3a" stroke-width="1.0"/><line x1="586.37" y1="154.5" x2="596.52" y2="154.5" stroke="#3a3a3a" stroke-width="1.0"/><line x1="586.37" y1="158.5" x2="596.52" y2="158.5" stroke="#3a3a3a" stroke-width="1.0"/><line x1="586.37" y1="163.5" x2="596.52" y2="163.5" stroke="#3a3a3a" stroke-width="1.0"/><line x1="586.37" y1="167.5" x2="596.52" y2="167.5" stroke="#3a3a3a" stroke-width="1.0"/><line x1="586.37" y1="172.5" x2="596.52" y2="172.5" stroke="#3a3a3a" stroke-width="1.0"/><line x1="586.37" y1="176.5" x2="596.52" y2="176.5" stroke="#3a3a3a" stroke-width="1.0"/><line x1="586.37" y1="181.5" x2="596.52" y2="181.5" stroke="#3a3a3a" stroke-width="1.0"/><line x1="586.37" y1="185.5" x2="596.52" y2="185.5" stroke="#3a3a3a" stroke-width="1.0"/><line x1="586.37" y1="190.5" x2="596.52" y2="190.5" stroke="#3a3a3a" stroke-width="1.0"/>
<path d="M586.37 192.45V106.15Q586.37 104.65 587.87 104.65H595.02Q596.52 104.65 596.52 106.15V192.45" fill="none" stroke="#000" stroke-width="2.1"/>
<line x1="616.25" y1="125.80" x2="616.25" y2="129.50" stroke="#000" stroke-width="1.9"/>
<line x1="613.85" y1="125.80" x2="618.65" y2="125.80" stroke="#000" stroke-width="2.0"/>
<rect x="611.25" y="129.55" width="10.80" height="62.90" fill="#fff"/>
<line x1="615.50" y1="129.55" x2="615.50" y2="192.45" stroke="#555" stroke-width="1.0"/><line x1="620.60" y1="129.55" x2="620.60" y2="192.45" stroke="#2a2a2a" stroke-width="1.4"/>
<path d="M611.25 192.45V131.05Q611.25 129.55 612.75 129.55H620.55Q622.05 129.55 622.05 131.05V192.45" fill="none" stroke="#000" stroke-width="2.1"/>
<text x="614.80" y="125.40" font-family="&quot;Liberation Sans&quot;, sans-serif" font-size="9.0" fill="#000" stroke="#000" stroke-width="0.3">*</text>
<line x1="631.77" y1="87.80" x2="631.77" y2="97.80" stroke="#000" stroke-width="1.9"/>
<line x1="629.38" y1="87.80" x2="634.17" y2="87.80" stroke="#000" stroke-width="2.0"/>
<rect x="626.70" y="97.85" width="10.15" height="94.60" fill="#fff"/>
<line x1="626.70" y1="102.5" x2="636.85" y2="102.5" stroke="#3a3a3a" stroke-width="1.0"/><line x1="626.70" y1="106.5" x2="636.85" y2="106.5" stroke="#3a3a3a" stroke-width="1.0"/><line x1="626.70" y1="111.5" x2="636.85" y2="111.5" stroke="#3a3a3a" stroke-width="1.0"/><line x1="626.70" y1="115.5" x2="636.85" y2="115.5" stroke="#3a3a3a" stroke-width="1.0"/><line x1="626.70" y1="120.5" x2="636.85" y2="120.5" stroke="#3a3a3a" stroke-width="1.0"/><line x1="626.70" y1="124.5" x2="636.85" y2="124.5" stroke="#3a3a3a" stroke-width="1.0"/><line x1="626.70" y1="129.5" x2="636.85" y2="129.5" stroke="#3a3a3a" stroke-width="1.0"/><line x1="626.70" y1="133.5" x2="636.85" y2="133.5" stroke="#3a3a3a" stroke-width="1.0"/><line x1="626.70" y1="138.5" x2="636.85" y2="138.5" stroke="#3a3a3a" stroke-width="1.0"/><line x1="626.70" y1="142.5" x2="636.85" y2="142.5" stroke="#3a3a3a" stroke-width="1.0"/><line x1="626.70" y1="147.5" x2="636.85" y2="147.5" stroke="#3a3a3a" stroke-width="1.0"/><line x1="626.70" y1="151.5" x2="636.85" y2="151.5" stroke="#3a3a3a" stroke-width="1.0"/><line x1="626.70" y1="156.5" x2="636.85" y2="156.5" stroke="#3a3a3a" stroke-width="1.0"/><line x1="626.70" y1="160.5" x2="636.85" y2="160.5" stroke="#3a3a3a" stroke-width="1.0"/><line x1="626.70" y1="165.5" x2="636.85" y2="165.5" stroke="#3a3a3a" stroke-width="1.0"/><line x1="626.70" y1="169.5" x2="636.85" y2="169.5" stroke="#3a3a3a" stroke-width="1.0"/><line x1="626.70" y1="174.5" x2="636.85" y2="174.5" stroke="#3a3a3a" stroke-width="1.0"/><line x1="626.70" y1="178.5" x2="636.85" y2="178.5" stroke="#3a3a3a" stroke-width="1.0"/><line x1="626.70" y1="183.5" x2="636.85" y2="183.5" stroke="#3a3a3a" stroke-width="1.0"/><line x1="626.70" y1="187.5" x2="636.85" y2="187.5" stroke="#3a3a3a" stroke-width="1.0"/>
<path d="M626.70 192.45V99.35Q626.70 97.85 628.20 97.85H635.35Q636.85 97.85 636.85 99.35V192.45" fill="none" stroke="#000" stroke-width="2.1"/>
<line x1="656.58" y1="119.50" x2="656.58" y2="121.10" stroke="#000" stroke-width="1.9"/>
<line x1="654.18" y1="119.50" x2="658.98" y2="119.50" stroke="#000" stroke-width="2.0"/>
<rect x="651.58" y="121.15" width="10.80" height="71.30" fill="#fff"/>
<line x1="656.50" y1="121.15" x2="656.50" y2="192.45" stroke="#555" stroke-width="1.0"/><line x1="660.93" y1="121.15" x2="660.93" y2="192.45" stroke="#2a2a2a" stroke-width="1.4"/>
<path d="M651.58 192.45V122.65Q651.58 121.15 653.08 121.15H660.88Q662.38 121.15 662.38 122.65V192.45" fill="none" stroke="#000" stroke-width="2.1"/>
<line x1="672.11" y1="100.20" x2="672.11" y2="106.70" stroke="#000" stroke-width="1.9"/>
<line x1="669.71" y1="100.20" x2="674.50" y2="100.20" stroke="#000" stroke-width="2.0"/>
<rect x="667.03" y="106.75" width="10.15" height="85.70" fill="#fff"/>
<line x1="667.03" y1="110.5" x2="677.18" y2="110.5" stroke="#3a3a3a" stroke-width="1.0"/><line x1="667.03" y1="115.5" x2="677.18" y2="115.5" stroke="#3a3a3a" stroke-width="1.0"/><line x1="667.03" y1="119.5" x2="677.18" y2="119.5" stroke="#3a3a3a" stroke-width="1.0"/><line x1="667.03" y1="124.5" x2="677.18" y2="124.5" stroke="#3a3a3a" stroke-width="1.0"/><line x1="667.03" y1="128.5" x2="677.18" y2="128.5" stroke="#3a3a3a" stroke-width="1.0"/><line x1="667.03" y1="133.5" x2="677.18" y2="133.5" stroke="#3a3a3a" stroke-width="1.0"/><line x1="667.03" y1="138.5" x2="677.18" y2="138.5" stroke="#3a3a3a" stroke-width="1.0"/><line x1="667.03" y1="142.5" x2="677.18" y2="142.5" stroke="#3a3a3a" stroke-width="1.0"/><line x1="667.03" y1="147.5" x2="677.18" y2="147.5" stroke="#3a3a3a" stroke-width="1.0"/><line x1="667.03" y1="151.5" x2="677.18" y2="151.5" stroke="#3a3a3a" stroke-width="1.0"/><line x1="667.03" y1="156.5" x2="677.18" y2="156.5" stroke="#3a3a3a" stroke-width="1.0"/><line x1="667.03" y1="160.5" x2="677.18" y2="160.5" stroke="#3a3a3a" stroke-width="1.0"/><line x1="667.03" y1="165.5" x2="677.18" y2="165.5" stroke="#3a3a3a" stroke-width="1.0"/><line x1="667.03" y1="169.5" x2="677.18" y2="169.5" stroke="#3a3a3a" stroke-width="1.0"/><line x1="667.03" y1="174.5" x2="677.18" y2="174.5" stroke="#3a3a3a" stroke-width="1.0"/><line x1="667.03" y1="178.5" x2="677.18" y2="178.5" stroke="#3a3a3a" stroke-width="1.0"/><line x1="667.03" y1="183.5" x2="677.18" y2="183.5" stroke="#3a3a3a" stroke-width="1.0"/><line x1="667.03" y1="187.5" x2="677.18" y2="187.5" stroke="#3a3a3a" stroke-width="1.0"/>
<path d="M667.03 192.45V108.25Q667.03 106.75 668.53 106.75H675.68Q677.18 106.75 677.18 108.25V192.45" fill="none" stroke="#000" stroke-width="2.1"/>
<line x1="402.40" y1="38.40" x2="402.40" y2="193.30" stroke="#000" stroke-width="1.7"/>
<line x1="401.55" y1="192.45" x2="684.00" y2="192.45" stroke="#000" stroke-width="1.7"/>
<line x1="397.80" y1="39.20" x2="402.40" y2="39.20" stroke="#000" stroke-width="1.5"/>
<text transform="translate(382.50 43.50) scale(0.86 1)" font-family='"Liberation Serif", serif' font-weight="bold" font-size="13" fill="#000" stroke="#000" stroke-width="0.2" textLength="16.63" lengthAdjust="spacing">1.0</text>
<line x1="397.80" y1="69.85" x2="402.40" y2="69.85" stroke="#000" stroke-width="1.5"/>
<text transform="translate(382.50 74.15) scale(0.86 1)" font-family='"Liberation Serif", serif' font-weight="bold" font-size="13" fill="#000" stroke="#000" stroke-width="0.2" textLength="16.63" lengthAdjust="spacing">0.8</text>
<line x1="397.80" y1="100.50" x2="402.40" y2="100.50" stroke="#000" stroke-width="1.5"/>
<text transform="translate(382.50 104.80) scale(0.86 1)" font-family='"Liberation Serif", serif' font-weight="bold" font-size="13" fill="#000" stroke="#000" stroke-width="0.2" textLength="16.63" lengthAdjust="spacing">0.6</text>
<line x1="397.80" y1="131.15" x2="402.40" y2="131.15" stroke="#000" stroke-width="1.5"/>
<text transform="translate(382.50 135.45) scale(0.86 1)" font-family='"Liberation Serif", serif' font-weight="bold" font-size="13" fill="#000" stroke="#000" stroke-width="0.2" textLength="16.63" lengthAdjust="spacing">0.4</text>
<line x1="397.80" y1="161.80" x2="402.40" y2="161.80" stroke="#000" stroke-width="1.5"/>
<text transform="translate(382.50 166.10) scale(0.86 1)" font-family='"Liberation Serif", serif' font-weight="bold" font-size="13" fill="#000" stroke="#000" stroke-width="0.2" textLength="16.63" lengthAdjust="spacing">0.2</text>
<line x1="397.80" y1="192.45" x2="402.40" y2="192.45" stroke="#000" stroke-width="1.5"/>
<text transform="translate(382.50 196.75) scale(0.86 1)" font-family='"Liberation Serif", serif' font-weight="bold" font-size="13" fill="#000" stroke="#000" stroke-width="0.2" textLength="16.63" lengthAdjust="spacing">0.0</text>
<line x1="422.60" y1="192.45" x2="422.60" y2="196.65" stroke="#000" stroke-width="1.5"/>
<text transform="translate(402.90 209.30) scale(0.86 1)" font-family='"Liberation Serif", serif' font-weight="bold" font-size="12.8" fill="#000" stroke="#000" stroke-width="0.2" textLength="44.77" lengthAdjust="spacing">Control</text>
<line x1="462.86" y1="192.45" x2="462.86" y2="196.65" stroke="#000" stroke-width="1.5"/>
<text transform="translate(449.76 209.30) scale(0.86 1)" font-family='"Liberation Serif", serif' font-weight="bold" font-size="12.8" fill="#000" stroke="#000" stroke-width="0.2" textLength="30.47" lengthAdjust="spacing">31.25</text>
<line x1="503.12" y1="192.45" x2="503.12" y2="196.65" stroke="#000" stroke-width="1.5"/>
<text transform="translate(492.62 209.30) scale(0.86 1)" font-family='"Liberation Serif", serif' font-weight="bold" font-size="12.8" fill="#000" stroke="#000" stroke-width="0.2" textLength="24.42" lengthAdjust="spacing">62.5</text>
<line x1="543.38" y1="192.45" x2="543.38" y2="196.65" stroke="#000" stroke-width="1.5"/>
<text transform="translate(534.78 209.30) scale(0.86 1)" font-family='"Liberation Serif", serif' font-weight="bold" font-size="12.8" fill="#000" stroke="#000" stroke-width="0.2" textLength="20.00" lengthAdjust="spacing">125</text>
<line x1="583.64" y1="192.45" x2="583.64" y2="196.65" stroke="#000" stroke-width="1.5"/>
<text transform="translate(575.04 209.30) scale(0.86 1)" font-family='"Liberation Serif", serif' font-weight="bold" font-size="12.8" fill="#000" stroke="#000" stroke-width="0.2" textLength="20.00" lengthAdjust="spacing">250</text>
<line x1="623.90" y1="192.45" x2="623.90" y2="196.65" stroke="#000" stroke-width="1.5"/>
<text transform="translate(615.30 209.30) scale(0.86 1)" font-family='"Liberation Serif", serif' font-weight="bold" font-size="12.8" fill="#000" stroke="#000" stroke-width="0.2" textLength="20.00" lengthAdjust="spacing">500</text>
<line x1="664.16" y1="192.45" x2="664.16" y2="196.65" stroke="#000" stroke-width="1.5"/>
<text transform="translate(651.66 209.30) scale(0.86 1)" font-family='"Liberation Serif", serif' font-weight="bold" font-size="12.8" fill="#000" stroke="#000" stroke-width="0.2" textLength="25.93" lengthAdjust="spacing">1000</text>
<line x1="446.70" y1="218.2" x2="677.40" y2="218.2" stroke="#000" stroke-width="2.2"/>
<text y="237.50" font-family='"Liberation Serif", serif' font-weight="bold" font-size="12.7" fill="#000" stroke="#000" stroke-width="0.2" xml:space="preserve"><tspan x="500.30" textLength="81.8" lengthAdjust="spacing">Concentration</tspan><tspan> </tspan><tspan x="585.20" textLength="26.6" lengthAdjust="spacing">µg/m</tspan><tspan x="613.60" textLength="8.8" lengthAdjust="spacing">L</tspan></text>
<text transform="translate(373.60 152.70) rotate(-90)" font-family='"Liberation Serif", serif' font-weight="bold" font-size="12.1" textLength="72.0" lengthAdjust="spacingAndGlyphs" fill="#000" stroke="#000" stroke-width="0.2">OD (630 nm)</text>
<text x="362.50" y="21.20" font-family='"Liberation Serif", serif' font-weight="bold" font-size="21" text-anchor="start" fill="#000" stroke="#000" stroke-width="0.2">B</text>
<rect x="559.50" y="4.60" width="16.30" height="7.80" rx="1.3" fill="#fff" stroke="#000" stroke-width="2.2"/>
<line x1="564.70" y1="5.00" x2="564.70" y2="12.00" stroke="#000" stroke-width="1.1"/>
<line x1="568.90" y1="5.00" x2="568.90" y2="12.00" stroke="#000" stroke-width="1.1"/>
<line x1="573.10" y1="5.00" x2="573.10" y2="12.00" stroke="#000" stroke-width="1.1"/>
<rect x="560.30" y="26.90" width="16.30" height="7.50" rx="1.3" fill="#fff" stroke="#000" stroke-width="2.2"/>
<line x1="560.70" y1="30.65" x2="576.10" y2="30.65" stroke="#222" stroke-width="1.0"/>
<text transform="translate(585.40 12.90) scale(0.9 1)" font-family='"Liberation Serif", serif' font-weight="bold" font-size="13.0" fill="#000" stroke="#000" stroke-width="0.2" textLength="55.33" lengthAdjust="spacing">K1(1-16)</text>
<text transform="translate(586.20 34.90) scale(0.9 1)" font-family='"Liberation Serif", serif' font-weight="bold" font-size="13.0" fill="#000" stroke="#000" stroke-width="0.2" textLength="55.33" lengthAdjust="spacing">K1(1-21)</text>
</svg>
</body></html>
